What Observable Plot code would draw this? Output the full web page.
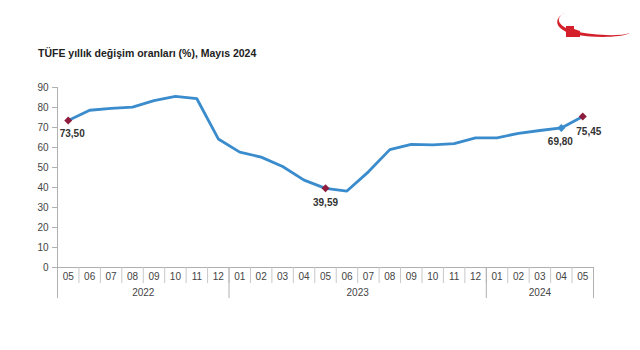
<!DOCTYPE html>
<html>
<head>
<meta charset="utf-8">
<script src="https://cdn.jsdelivr.net/npm/d3@7"></script>
<script src="https://cdn.jsdelivr.net/npm/@observablehq/plot@0.6"></script>
<style>
  html, body { margin: 0; padding: 0; background: #fff; }
  body { width: 640px; height: 350px; position: relative; overflow: hidden; font-family: "Liberation Sans", Arial, sans-serif; }
  #title { position: absolute; left: 38px; top: 47px; font-size: 10.5px; font-weight: bold; color: #222; line-height: 13px; white-space: nowrap; }
  #chart { position: absolute; left: 0; top: 0; }
  #logo { position: absolute; left: 552px; top: 6px; }
</style>
</head>
<body>
<div id="title">TÜFE yıllık değişim oranları (%), Mayıs 2024</div>
<svg id="logo" width="85" height="40" viewBox="0 0 85 40">
  <path d="M16 6 C 2 10, 4 20, 22 25 C 40 29, 66 31, 78 27 C 68 32, 40 32, 20 28 C 0 22, 2 10, 16 6 Z" fill="#d4202a"/>
  <path d="M14 20 L 22 20 L 22 23 L 28 25 L 28 31 L 14 31 Z" fill="#d4202a"/>
</svg>
<div id="chart"></div>
<script>
// Periods (YYYY-MM) and annual CPI change (%)
const periods = [
  "2022-05","2022-06","2022-07","2022-08","2022-09","2022-10","2022-11","2022-12",
  "2023-01","2023-02","2023-03","2023-04","2023-05","2023-06","2023-07","2023-08",
  "2023-09","2023-10","2023-11","2023-12",
  "2024-01","2024-02","2024-03","2024-04","2024-05"
];
const values = [
  73.50, 78.62, 79.60, 80.21, 83.45, 85.51, 84.39, 64.27,
  57.68, 55.18, 50.51, 43.68, 39.59, 38.21, 47.83, 58.94,
  61.53, 61.36, 61.98, 64.77,
  64.86, 67.07, 68.50, 69.80, 75.45
];
const yTicks = [0, 10, 20, 30, 40, 50, 60, 70, 80, 90];
// Highlighted points
const redPoints = ["2022-05", "2023-05", "2024-05"];
const bluePoints = ["2024-04"];

const data = periods.map((p, i) => ({
  i, period: p, year: p.slice(0, 4), month: p.slice(5), value: values[i],
  label: values[i].toFixed(2).replace(".", ",")
}));
const years = Array.from(new Set(data.map(d => d.year)));
const yearCenters = years.map(y => {
  const idx = data.filter(d => d.year === y).map(d => d.i);
  return (d3.min(idx) + d3.max(idx)) / 2;
});
const monthEdges = d3.range(periods.length + 1).map(k => k - 0.5);
const yearEdges = [-0.5, ...years.map(y => d3.max(data.filter(d => d.year === y), d => d.i) + 0.5)];

const red = data.filter(d => redPoints.includes(d.period));
const blue = data.filter(d => bluePoints.includes(d.period));
const labelOffsets = { "2022-05": [4, 9], "2023-05": [0, 11], "2024-04": [-1, 10], "2024-05": [6, 11] };
const labelled = data.filter(d => labelOffsets[d.period]);

const axisGray = "#b0b0b0";
const textGray = "#444";

const chart = Plot.plot({
  width: 640,
  height: 350,
  marginTop: 87,
  marginBottom: 83,
  marginLeft: 57,
  marginRight: 47,
  style: { fontFamily: "Liberation Sans, Arial, sans-serif", fontSize: "10px", background: "transparent" },
  x: { type: "linear", domain: [-0.5, periods.length - 0.5], axis: null },
  y: { domain: [0, 90], axis: null },
  marks: [
    // y axis
    Plot.axisY(yTicks, { label: null, tickSize: 5, tickPadding: 4, stroke: axisGray, fill: textGray, fontSize: 10 }),
    Plot.ruleX([-0.5], { stroke: axisGray }),
    Plot.ruleY([0], { stroke: axisGray }),
    // month separators
    Plot.axisX(monthEdges, { label: null, tickSize: 16, tickFormat: () => "", stroke: "#c8c8c8" }),
    // year separators
    Plot.axisX(yearEdges, { label: null, tickSize: 31, tickFormat: () => "", stroke: axisGray }),
    // month labels
    Plot.axisX(data.map(d => d.i), { label: null, tickSize: 0, tickPadding: 5, tickFormat: i => data[i].month, fill: textGray, fontSize: 10 }),
    // year labels
    Plot.axisX(yearCenters, { label: null, tickSize: 0, tickPadding: 21, tickFormat: (c, k) => years[k], fill: textGray, fontSize: 10 }),
    // series
    Plot.line(data, { x: "i", y: "value", stroke: "#3a8ccd", strokeWidth: 2.8, strokeLinejoin: "round" }),
    Plot.dot(blue, { x: "i", y: "value", symbol: "diamond2", r: 3.6, fill: "#3a8ccd" }),
    Plot.dot(red, { x: "i", y: "value", symbol: "diamond2", r: 3.6, fill: "#8e1c3c" }),
    Plot.text(labelled, {
      x: "i", y: "value", text: "label",
      fill: "#333", fontWeight: "bold", fontSize: 10,
      textAnchor: "middle", lineAnchor: "top",
      render: (index, scales, values, dims, ctx, next) => {
        const g = next(index, scales, values, dims, ctx);
        d3.select(g).selectAll("text").each(function (_, j) {
          const d = labelled[index[j]];
          const [ox, oy] = labelOffsets[d.period];
          this.setAttribute("transform", `translate(${values.x[index[j]] + ox},${values.y[index[j]] + oy})`);
        });
        return g;
      }
    })
  ]
});
document.getElementById("chart").appendChild(chart);
</script>
</body>
</html>
